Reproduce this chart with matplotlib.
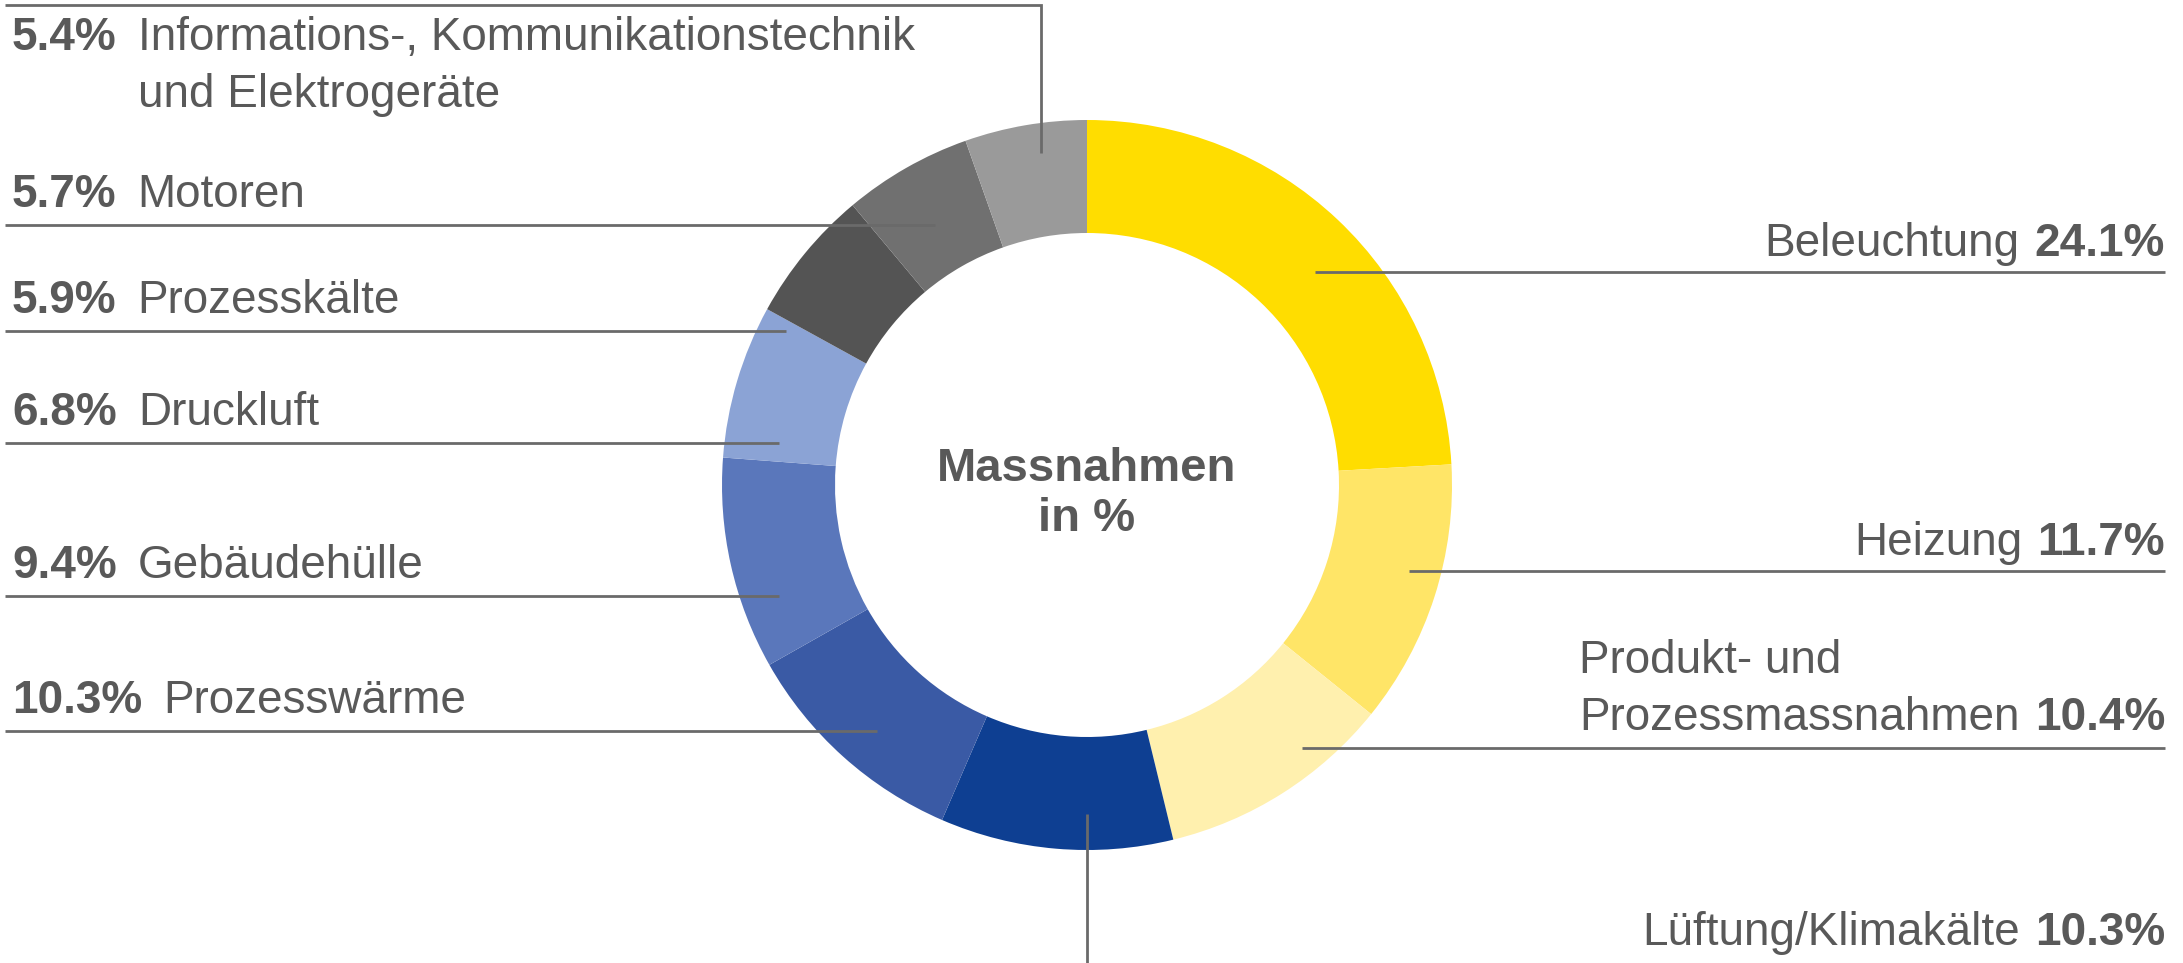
import matplotlib
matplotlib.use("Agg")
import matplotlib.pyplot as plt

# ---------------- data ----------------
categories = [
    "Beleuchtung", "Heizung", "Produkt- und\nProzessmassnahmen", "Lüftung/Klimakälte",
    "Prozesswärme", "Gebäudehülle", "Druckluft", "Prozesskälte", "Motoren",
    "Informations-, Kommunikationstechnik\nund Elektrogeräte",
]
values = [24.1, 11.7, 10.4, 10.3, 10.3, 9.4, 6.8, 5.9, 5.7, 5.4]
colors = ["#FFDD00", "#FFE567", "#FFF0AE", "#0E3F92", "#3A5AA5",
          "#5A77BB", "#8BA3D5", "#545454", "#707070", "#9A9A9A"]
center_title = "Massnahmen\nin %"

# ---------------- layout ----------------
W, H = 2183, 963
TXT = "#595959"
LINE = "#6A6A6A"
FS = 33
LSP = 57  # line spacing in px for two-line labels
plt.rcParams['font.family'] = ['Liberation Sans', 'DejaVu Sans']

fig = plt.figure(figsize=(W / 100, H / 100), dpi=100)
ax = fig.add_axes([0, 0, 1, 1])

def Y(p):
    return H - p

cx, cy, R, ring = 1087, 485, 365, 113
ax.pie(values, colors=colors, startangle=90, counterclock=False,
       radius=R, center=(cx, Y(cy)),
       wedgeprops=dict(width=ring, edgecolor="none", linewidth=0))
ax.set_xlim(0, W)
ax.set_ylim(0, H)
ax.set_aspect("equal")
ax.axis("off")

# center label
ax.text(cx, Y(494), center_title, ha="center", va="center", fontsize=34,
        fontweight="bold", color=TXT, linespacing=1.2)

# leader lines (layout): polylines in pixel coords
leaders = {
    0: [(1315, 272), (2165, 272)],
    1: [(1409, 571), (2165, 571)],
    2: [(1302, 748), (2165, 748)],
    3: [(1087, 814), (1087, 963)],
    4: [(5, 731), (877, 731)],
    5: [(5, 596), (779, 596)],
    6: [(5, 443), (779, 443)],
    7: [(5, 331), (786, 331)],
    8: [(5, 225), (935, 225)],
    9: [(5, 5), (1041, 5), (1041, 153)],
}
for i, pts in leaders.items():
    xs = [p[0] for p in pts]
    ys = [Y(p[1]) for p in pts]
    ax.plot(xs, ys, color=LINE, lw=2.0, solid_capstyle="butt",
            solid_joinstyle="miter", zorder=5)

fig.canvas.draw()
renderer = fig.canvas.get_renderer()

def width_px(t):
    return t.get_window_extent(renderer=renderer).width

# left labels: bold pct, then name (first-line baselines)
left_items = {4: 713, 5: 578, 6: 425, 7: 313, 8: 207, 9: 50}
LX = 12
for i, base in left_items.items():
    pct = f"{values[i]:.1f}%"
    t = ax.text(LX, Y(base), pct, fontsize=FS, fontweight="bold", color=TXT,
                ha="left", va="baseline")
    x0 = LX + width_px(t) + 21
    for k, line in enumerate(categories[i].split("\n")):
        ax.text(x0, Y(base + k * LSP), line, fontsize=FS, color=TXT,
                ha="left", va="baseline")

# right labels: name then bold pct, right aligned (last-line baselines)
right_items = {0: 256, 1: 555, 2: 730, 3: 945}
RX = 2165
space = 15
for i, base in right_items.items():
    pct = f"{values[i]:.1f}%"
    t = ax.text(RX, Y(base), pct, fontsize=FS, fontweight="bold", color=TXT,
                ha="right", va="baseline")
    w = width_px(t)
    lines = categories[i].split("\n")
    last = ax.text(RX - w - space, Y(base), lines[-1], fontsize=FS, color=TXT,
                   ha="right", va="baseline")
    if len(lines) > 1:
        x0 = RX - w - space - width_px(last)
        for k, line in enumerate(lines[:-1][::-1]):
            ax.text(x0, Y(base - (k + 1) * LSP), line, fontsize=FS, color=TXT,
                    ha="left", va="baseline")

fig.savefig("out.png", dpi=100, facecolor="white")
